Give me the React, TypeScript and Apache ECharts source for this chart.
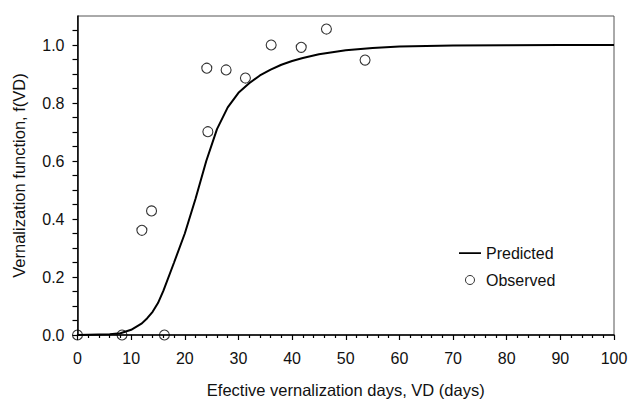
import React, { useEffect, useRef } from "react";
import * as echarts from "echarts";

const predictedX = [0, 2, 4, 6, 8, 10, 12, 13, 14, 15, 16, 18, 20, 22, 24, 26, 28, 30, 32, 34, 36, 38, 40, 42, 45, 50, 55, 60, 70, 80, 90, 100];
const predictedY = [0, 0.001, 0.002, 0.003, 0.006, 0.018, 0.04, 0.058, 0.08, 0.11, 0.152, 0.25, 0.35, 0.47, 0.6, 0.71, 0.785, 0.835, 0.868, 0.895, 0.915, 0.932, 0.945, 0.955, 0.968, 0.982, 0.99, 0.995, 0.998, 0.999, 1.0, 1.0];

const observedX = [0, 8.3, 12.0, 13.8, 16.2, 24.1, 24.3, 27.7, 31.3, 36.1, 41.7, 46.4, 53.6];
const observedY = [0, 0, 0.361, 0.428, 0, 0.92, 0.701, 0.914, 0.886, 1.0, 0.992, 1.055, 0.948];

const seriesNames = ["Predicted", "Observed"];
const xAxisTitle = "Efective vernalization days, VD (days)";
const yAxisTitle = "Vernalization function, f(VD)";

const FONT = "'Liberation Sans', Arial, sans-serif";

export default function App() {
  const ref = useRef<HTMLDivElement>(null);
  useEffect(() => {
    if (!ref.current) return;
    const chart = echarts.init(ref.current, undefined, { renderer: "svg" });
    chart.setOption({
      animation: false,
      backgroundColor: "#fff",
      textStyle: { fontFamily: FONT },
      grid: {
        left: 77.5,
        right: 16,
        top: 16,
        bottom: 65,
        show: true,
        borderColor: "#555",
        borderWidth: 1,
        outerBoundsMode: "none",
        containLabel: false,
      },
      legend: {
        orient: "vertical",
        left: 454,
        top: 240,
        itemWidth: 22,
        itemHeight: 9,
        itemGap: 11,
        textStyle: { fontSize: 16, color: "#111", fontFamily: FONT },
        data: [
          {
            name: seriesNames[0],
            icon: "path://M0,3.7 L22,3.7 L22,5.5 L0,5.5 Z M0,0 L0.01,0 L0.01,0.01 Z M0,9 L0.01,9 L0.01,9.01 Z",
            itemStyle: { color: "#000", borderWidth: 0 },
          },
          {
            name: seriesNames[1],
            icon: "circle",
            itemStyle: { color: "rgba(255,255,255,0)", borderColor: "#000", borderWidth: 1 },
          },
        ],
      },
      xAxis: {
        type: "value",
        min: 0,
        max: 100,
        interval: 10,
        name: xAxisTitle,
        nameLocation: "middle",
        nameGap: 46,
        nameTextStyle: { fontSize: 16.5, color: "#111", fontFamily: FONT },
        axisLine: { show: true, onZero: false, lineStyle: { color: "#000", width: 1.5 } },
        axisTick: { show: true, inside: false, length: 5, lineStyle: { color: "#000", width: 1.2 } },
        minorTick: { show: true, splitNumber: 5, length: 3, lineStyle: { color: "#000", width: 1.2 } },
        axisLabel: { fontSize: 16, color: "#111", margin: 15, fontFamily: FONT },
        splitLine: { show: false },
      },
      yAxis: {
        type: "value",
        min: 0,
        max: 1.1,
        interval: 0.05,
        name: yAxisTitle,
        nameLocation: "middle",
        nameGap: 50,
        nameTextStyle: { fontSize: 16.5, color: "#111", fontFamily: FONT },
        axisLine: { show: true, onZero: false, lineStyle: { color: "#000", width: 1.5 } },
        axisTick: { show: true, inside: false, length: 5, lineStyle: { color: "#000", width: 1.2 } },
        axisLabel: {
          fontSize: 16,
          color: "#111",
          margin: 13,
          fontFamily: FONT,
          showMaxLabel: false,
          formatter: (v: number) => {
            const r = Math.round(v * 100);
            return r % 20 === 0 && r <= 100 ? (r / 100).toFixed(1) : "";
          },
        },
        splitLine: { show: false },
      },
      series: [
        {
          name: seriesNames[0],
          type: "line",
          data: predictedX.map((x, i) => [x, predictedY[i]]),
          showSymbol: false,
          symbol: "none",
          smooth: false,
          lineStyle: { color: "#000", width: 2 },
          itemStyle: { color: "#000" },
          z: 2,
        },
        {
          name: seriesNames[1],
          type: "scatter",
          data: observedX.map((x, i) => [x, observedY[i]]),
          symbol: "circle",
          symbolSize: 10,
          itemStyle: { color: "rgba(255,255,255,0)", borderColor: "#000", borderWidth: 1.1 },
          z: 3,
        },
      ],
    });
    return () => chart.dispose();
  }, []);
  return <div ref={ref} style={{ width: 630, height: 400, position: "absolute", left: 0, top: 0 }} />;
}
